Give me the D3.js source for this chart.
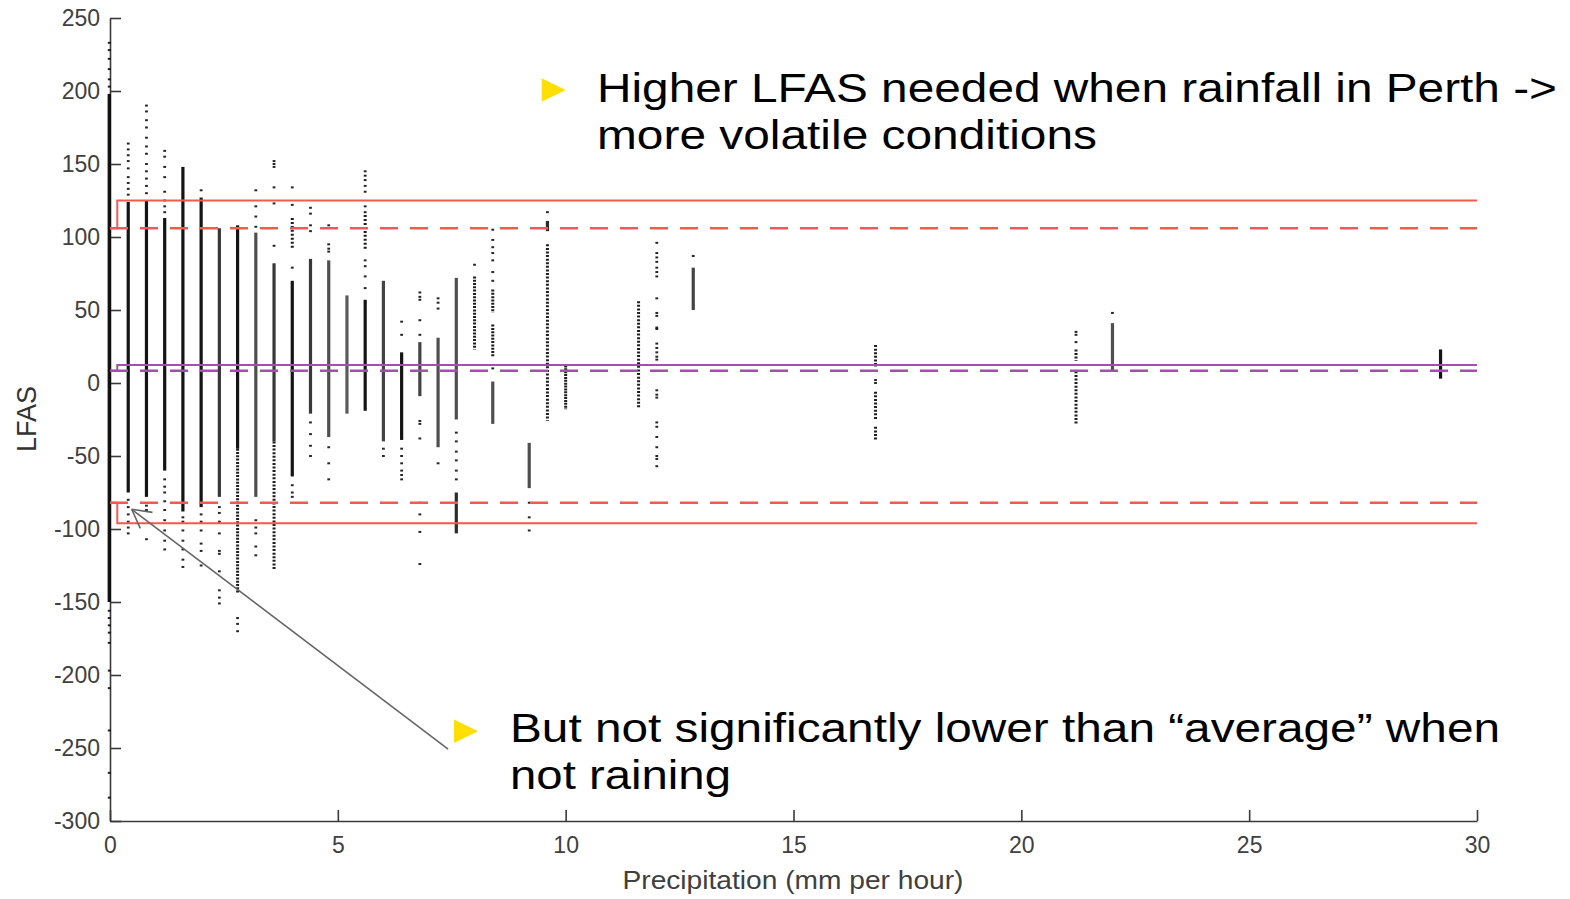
<!DOCTYPE html>
<html><head><meta charset="utf-8">
<script src="https://cdn.jsdelivr.net/npm/d3@7"></script>
<style>
html,body{margin:0;padding:0;background:#fff;}
svg{display:block;font-family:"Liberation Sans",Arial,Helvetica,sans-serif;}
</style></head><body>
<svg id="chart" width="1570" height="899"></svg>
<script>
// ---------- data ----------
const xTicks = [0, 5, 10, 15, 20, 25, 30];
const yTicks = [250, 200, 150, 100, 50, 0, -50, -100, -150, -200, -250, -300];
const xTitle = "Precipitation (mm per hour)";
const yTitle = "LFAS";

// dense runs of observations: [precipitation, lowLFAS, highLFAS, density]
const denseRuns = [
  [0, -150, 198, 1], [0.4, -75, 124, 1], [0.8, -78, 125, 1], [1.2, -60, 113, 1],
  [1.6, -88, 148, 1], [2.0, -85, 127, 1], [2.4, -78, 106, 0.85],
  [2.8, -45, 108, 1], [2.8, -144, -45, 0.5], [3.2, -78, 103, 0.75],
  [3.6, -40, 82, 0.85], [3.6, -128, -40, 0.45], [4.0, -64, 70, 1], [4.0, 92, 113, 0.4],
  [4.4, -21, 85, 0.85], [4.8, -37, 84, 0.75], [5.2, -21, 60, 0.7],
  [5.6, -19, 57, 1], [5.6, 91, 115, 0.4], [6.0, -40, 70, 0.8], [6.4, -39, 21, 1],
  [6.8, -9, 28, 0.8], [7.2, -44, 31, 0.75], [7.6, -25, 72, 0.75], [7.6, -103, -75, 0.9],
  [8.0, 23, 73, 0.5], [8.4, 48, 64, 0.5], [8.4, 18, 40, 0.5], [8.4, -28, 1, 0.75],
  [9.2, -72, -41, 0.75], [9.6, 104, 111, 0.9], [9.6, -26, 95, 0.45],
  [10.0, -18, 12, 0.6], [11.6, -17, 56, 0.45], [12.8, 50, 79, 0.8],
  [16.8, 11, 26, 0.45], [16.8, -25, -6, 0.45], [16.8, -39, -30, 0.45],
  [21.2, 15, 23, 0.45], [21.2, -29, 8, 0.45], [22.0, 8, 41, 0.75], [29.2, 3, 23, 1]
];

// isolated observations: [precipitation, [LFAS values]]
const isolatedPoints = [
  [0, [233, 228, 222, 215, 208, 203, -156, -161, -166, -171, -178, -197, -209, -238, -267, -284]],
  [0.4, [164, 160, 156, 152, 147, 141, 137, 133, 129, -80, -85, -90, -95, -99, -103]],
  [0.8, [190, 186, 180, 175, 168, 162, 157, 150, 145, 140, 135, 130, -84, -87, -107]],
  [1.2, [159, 155, 148, 141, 131, 125, 121, 117, -66, -71, -75, -81, -87, -94, -101, -108, -114]],
  [1.6, [-92, -95, -101, -108, -114, -121, -126]],
  [2.0, [132, -90, -95, -101, -110, -115, -125]],
  [2.4, [-85, -89, -95, -103, -115, -117, -129, -142, -147, -151]],
  [2.8, [-161, -165, -170]],
  [3.2, [132, 121, 114, 107, -94, -99, -103, -112, -118]],
  [3.6, [152, 150, 148, 134, 123, 94]],
  [4.0, [134, 122, 79, -70, -75, -78]],
  [4.4, [120, 116, 108, 104, -27, -35, -43, -50]],
  [4.8, [108, 95, 92, 90, -44, -55, -66]],
  [5.6, [145, 142, 139, 135, 131, 121, 117, 84, 80, 73, 65]],
  [6.0, [-45, -50]],
  [6.4, [42, 33, -45, -50, -55, -60, -63, -66]],
  [6.8, [62, 59, 57, 43, 33, -26, -28, -38, -82, -90, -102, -124]],
  [7.2, [58, 55, 51, -55]],
  [7.6, [-34, -40, -47, -53, -60, -66]],
  [8.0, [81]],
  [8.4, [105, 98, 93, 89, 84, 76, 70, 10]],
  [9.2, [-82, -92, -101]],
  [9.6, [117]],
  [12.0, [96, 89, 86, 83, 79, 76, 73, 58, 48, 46, 38, 37, 27, 24, 21, 18, 16, -5, -8, -10, -27, -30, -37, -44, -50, -52, -57]],
  [12.8, [87]],
  [16.8, [2, 0]],
  [21.2, [35, 33, 28]],
  [22.0, [48]]
];

// threshold lines [precipitation, LFAS]
const upperRain = [[0, 106], [0.16, 106], [0.16, 125], [30, 125]];
const upperBase = [[0, 106], [30, 106]];
const lowerRain = [[0, -82], [0.16, -82], [0.16, -96], [30, -96]];
const lowerBase = [[0, -82], [30, -82]];
const meanRain = [[0, 8.4], [0.16, 8.4], [0.16, 12.3], [30, 12.3]];
const meanBase = [[0, 8.4], [30, 8.4]];

const note1 = ["Higher LFAS needed when rainfall in Perth ->", "more volatile conditions"];
const note2 = ["But not significantly lower than \u201Caverage\u201D when", "not raining"];
const arrowTip = [0.476, -86.5];
const arrowTail = [7.42, -250.7];

// ---------- chart ----------
const svg = d3.select("#chart");
const x = d3.scaleLinear().domain([0, 30]).range([110, 1477]);
const y = d3.scaleLinear().domain([-300, 250]).range([821, 18]);
const RED = "#f25a4e", PURPLE = "#a64cb3";
const axisColor = "#3a3a3a";

// axes first (scatter drawn over them, as in the original)
const yAxis = svg.append("g").attr("transform", "translate(110,0)")
  .call(d3.axisLeft(y).tickValues(yTicks).tickFormat(d => String(d))
    .tickSizeInner(-11).tickSizeOuter(0).tickPadding(10));
const xAxis = svg.append("g").attr("transform", "translate(0,821)")
  .call(d3.axisBottom(x).tickValues(xTicks).tickFormat(d => String(d))
    .tickSizeInner(-11).tickSizeOuter(0).tickPadding(16));
[yAxis, xAxis].forEach(a => {
  a.select(".domain").attr("stroke", axisColor).attr("stroke-width", 1.6);
  a.selectAll(".tick line").attr("stroke", axisColor).attr("stroke-width", 1.6);
  a.selectAll(".tick text").attr("fill", "#404040")
    .style("font-family", "'Liberation Sans', Arial, sans-serif").style("font-size", "23px");
});

// scatter
const g = svg.append("g");
denseRuns.forEach(([px, lo, hi, d]) => {
  const cx = px === 0 ? x(px) - 0.8 : x(px);
  if (d >= 0.7) {
    g.append("rect").attr("x", cx - 1.6).attr("width", 3.2)
      .attr("y", y(hi)).attr("height", y(lo) - y(hi))
      .attr("fill", "#000").attr("opacity", 0.92 * d);
  } else {
    const gap = 1.3 * (1 / d - 1);
    g.append("line").attr("x1", cx).attr("x2", cx)
      .attr("y1", y(hi)).attr("y2", y(lo))
      .attr("stroke", "#000").attr("stroke-width", 3).attr("opacity", 0.88)
      .attr("stroke-dasharray", `2 ${gap.toFixed(2)}`);
  }
});
isolatedPoints.forEach(([px, vals]) => {
  const cx = px === 0 ? x(px) - 0.8 : x(px);
  vals.forEach(v => {
    g.append("rect").attr("x", cx - 1.4).attr("y", y(v) - 1)
      .attr("width", 2.8).attr("height", 2).attr("fill", "#000").attr("opacity", 0.85);
  });
});

// threshold lines
const line = d3.line().x(d => x(d[0])).y(d => y(d[1]));
function drawLine(data, color, dashed) {
  svg.append("path").attr("d", line(data)).attr("fill", "none")
    .attr("stroke", color).attr("stroke-width", dashed ? 2.6 : 2)
    .attr("stroke-dasharray", dashed ? "18 12" : null);
}
drawLine(upperBase, RED, true);
drawLine(upperRain, RED, false);
drawLine(lowerBase, RED, true);
drawLine(lowerRain, RED, false);
drawLine(meanBase, PURPLE, true);
drawLine(meanRain, PURPLE, false);

svg.append("text").attr("x", 793).attr("y", 889).attr("text-anchor", "middle")
  .attr("fill", "#404040").style("font-size", "25px")
  .attr("textLength", 341).attr("lengthAdjust", "spacingAndGlyphs").text(xTitle);
svg.append("text").attr("transform", "translate(36,419) rotate(-90)").attr("text-anchor", "middle")
  .attr("fill", "#333").style("font-size", "27px").text(yTitle);

// arrow
const tip = [x(arrowTip[0]), y(arrowTip[1])], tail = [x(arrowTail[0]), y(arrowTail[1])];
svg.append("line").attr("x1", tail[0]).attr("y1", tail[1]).attr("x2", tip[0]).attr("y2", tip[1])
  .attr("stroke", "#666").attr("stroke-width", 1.6);
const ang = Math.atan2(tail[1] - tip[1], tail[0] - tip[0]);
[-0.5, 0.5].forEach(da => {
  svg.append("line").attr("x1", tip[0]).attr("y1", tip[1])
    .attr("x2", tip[0] + 21 * Math.cos(ang + da)).attr("y2", tip[1] + 21 * Math.sin(ang + da))
    .attr("stroke", "#666").attr("stroke-width", 1.6);
});

// annotations
function bullet(tx, ty, lines, lens, bx, by) {
  svg.append("path").attr("d", `M${bx},${by - 11.7}L${bx + 24},${by}L${bx},${by + 11.7}Z`).attr("fill", "#ffde00");
  lines.forEach((t, i) => {
    svg.append("text").attr("x", tx).attr("y", ty + i * 47).attr("fill", "#000")
      .style("font-size", "40px").attr("textLength", lens[i]).attr("lengthAdjust", "spacingAndGlyphs").text(t);
  });
}
bullet(597, 101.5, note1, [960, 500], 541.7, 90);
bullet(510, 741.5, note2, [990, 221], 454, 731.3);
</script>
</body></html>
